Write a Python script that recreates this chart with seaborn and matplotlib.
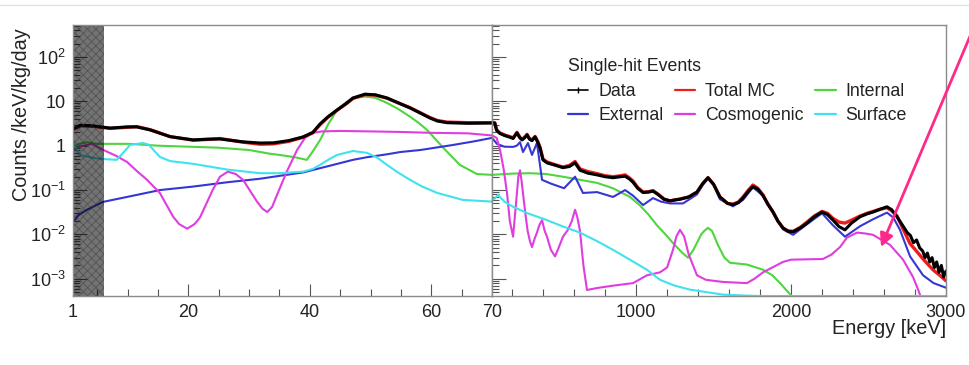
import matplotlib
matplotlib.use("Agg")
import matplotlib.pyplot as plt
from matplotlib.lines import Line2D
from matplotlib.patches import FancyArrowPatch
from matplotlib.ticker import FixedLocator, LogLocator, NullFormatter
import seaborn as sns

# ---------------- low-energy region (1-70 keV) ----------------
low_data_e = [1, 2.2, 4.3, 7.1, 9.9, 11.5, 13.7, 17, 20.8, 23, 25.2, 29, 31.8, 34, 36.5,
              38.9, 40.5, 41.7, 43, 44.5, 46, 47.1, 49.1, 50.8, 52.7, 54.5, 56.5, 58,
              59.8, 61, 62.6, 66, 70]
low_data_v = [2.4, 2.9, 2.8, 2.5, 2.65, 2.65, 2.27, 1.6, 1.35, 1.4, 1.42, 1.22, 1.15, 1.16, 1.3,
              1.58, 2.0, 3.1, 4.5, 6.4, 9.0, 11.9, 14.5, 14.0, 11.9, 9.3, 7.1, 5.6,
              4.2, 3.6, 3.3, 3.2, 3.25]

low_mc_e = [1, 2.2, 4.3, 7.1, 9.9, 11.5, 13.7, 17, 20.8, 23, 25.2, 29, 31.8, 34, 36.5,
            38.9, 40.5, 41.7, 43, 44.5, 46, 47.1, 49.1, 50.8, 52.7, 54.5, 56.5, 58,
            59.8, 61, 62.6, 66, 70]
low_mc_v = [2.3, 2.8, 2.75, 2.45, 2.6, 2.7, 2.3, 1.6, 1.33, 1.38, 1.45, 1.2, 1.08, 1.1, 1.25,
            1.55, 1.95, 3.0, 4.4, 6.3, 8.8, 11.6, 14.2, 13.8, 11.8, 9.3, 7.2, 5.7,
            4.3, 3.7, 3.4, 3.3, 3.3]

low_int_e = [1, 2, 3.3, 5, 10.4, 15, 20, 25, 30, 33.4, 35, 37.5, 39.5, 40.5, 41.7, 43, 44.5,
             46, 47.1, 49.1, 50.8, 52.7, 54.5, 56.5, 58, 59.3, 62, 64.7, 67.5, 70]
low_int_v = [0.95, 1.1, 1.2, 1.1, 1.1, 1.0, 0.95, 0.9, 0.8, 0.66, 0.62, 0.55, 0.48, 0.75, 1.35,
             3.0, 6.4, 9.5, 11.7, 12.8, 12.0, 9.2, 6.8, 4.5, 3.2, 2.27, 0.89, 0.37, 0.23, 0.22]

low_ext_e = [1, 2, 3.3, 5.9, 9.9, 15.3, 20.8, 26.4, 31.8, 35.1, 38.9, 42.8, 47.1, 49.4,
             52.7, 54.9, 58.2, 63.6, 67, 70]
low_ext_v = [0.019, 0.028, 0.036, 0.054, 0.07, 0.10, 0.12, 0.15, 0.18, 0.21, 0.25, 0.34,
             0.48, 0.55, 0.64, 0.72, 0.8, 1.04, 1.25, 1.5]

low_cos_e = [1, 2, 4.1, 6, 8, 9.9, 11.5, 13.2, 15.3, 17.5, 18.5, 19.8, 21, 21.9, 24, 25.2,
             26.5, 27.8, 29, 31.3, 32.2, 33, 33.8, 34.6, 36.2, 37.9, 39.2, 40.4, 42, 45,
             50, 55, 60, 66, 69, 70]
low_cos_v = [0.75, 0.95, 1.1, 0.8, 0.6, 0.43, 0.27, 0.17, 0.086, 0.025, 0.017, 0.0135, 0.017,
             0.024, 0.1, 0.2, 0.26, 0.23, 0.17, 0.055, 0.038, 0.032, 0.042, 0.078, 0.26, 0.8,
             1.5, 1.94, 2.1, 2.15, 2.1, 2.04, 1.95, 1.9, 1.75, 1.7]

low_surf_e = [1, 1.5, 2.2, 4.3, 6, 8.2, 9.3, 10.4, 12.5, 13.5, 14.2, 15.3, 17, 20.8, 26.4,
              31.8, 35, 38.9, 40.5, 41.7, 43, 44.5, 47.1, 49.4, 51, 52.7, 54.5, 56.5,
              58.5, 61, 65.2, 70]
low_surf_v = [1.3, 0.9, 0.62, 0.53, 0.5, 0.48, 0.7, 1.04, 1.15, 1.05, 0.82, 0.56, 0.45, 0.39,
              0.29, 0.24, 0.24, 0.26, 0.3, 0.37, 0.48, 0.62, 0.76, 0.69, 0.55, 0.37, 0.25,
              0.17, 0.12, 0.086, 0.06, 0.055]

# ---------------- high-energy region (70-3000 keV) ----------------
high_data_e = [70, 88, 100, 120, 150, 186, 206, 231, 250, 264, 280, 296, 312, 328, 348, 365,
               380, 399, 425, 470, 528, 570, 606, 638, 690, 748, 800, 851, 900, 929, 955,
               980, 1010, 1045, 1080, 1109, 1140, 1180, 1219, 1250, 1283, 1340, 1393, 1430,
               1464, 1500, 1541, 1590, 1625, 1660, 1690, 1725, 1754, 1785, 1819, 1850,
               1884, 1915, 1948, 1980, 2013, 2060, 2103, 2150, 2200, 2235, 2271, 2310,
               2348, 2390, 2445, 2490, 2529, 2575, 2619, 2650, 2684, 2720, 2750, 2770,
               2790, 2810, 2830, 2850, 2865, 2880, 2895, 2910, 2925, 2940, 2955, 2970,
               2985, 3000]
high_data_v = [3.3, 3.2, 2.2, 1.9, 1.7, 1.55, 1.45, 1.94, 1.5, 1.35, 1.5, 1.75, 1.4, 1.3,
               1.58, 1.2, 0.89, 0.48, 0.41, 0.37, 0.32, 0.34, 0.41, 0.28, 0.24, 0.22, 0.2,
               0.19, 0.2, 0.205, 0.18, 0.15, 0.11, 0.088, 0.09, 0.095, 0.08, 0.062, 0.057,
               0.06, 0.062, 0.07, 0.09, 0.14, 0.19, 0.135, 0.07, 0.05, 0.047, 0.052, 0.066,
               0.095, 0.12, 0.105, 0.075, 0.048, 0.032, 0.02, 0.014, 0.0118, 0.0114, 0.014,
               0.018, 0.025, 0.032, 0.028, 0.021, 0.015, 0.0127, 0.018, 0.025, 0.029, 0.032,
               0.037, 0.042, 0.036, 0.025, 0.016, 0.011, 0.0095, 0.0065, 0.0075, 0.005,
               0.0042, 0.003, 0.0038, 0.0024, 0.003, 0.0018, 0.0024, 0.0014, 0.002, 0.0011,
               0.0015]

high_mc_e = [70, 88, 100, 120, 150, 186, 206, 231, 250, 264, 280, 296, 312, 328, 348, 365,
             380, 399, 425, 470, 528, 570, 606, 638, 690, 748, 800, 851, 900, 929, 955,
             980, 1010, 1045, 1080, 1109, 1140, 1180, 1219, 1250, 1283, 1340, 1393, 1430,
             1464, 1500, 1541, 1590, 1625, 1660, 1690, 1725, 1754, 1785, 1819, 1850,
             1884, 1915, 1948, 1980, 2013, 2060, 2103, 2150, 2200, 2235, 2271, 2310,
             2348, 2390, 2445, 2490, 2529, 2575, 2619, 2650, 2684, 2720, 2768, 2810,
             2852, 2916, 2960, 3000]
high_mc_v = [3.4, 3.3, 2.3, 1.95, 1.75, 1.6, 1.5, 2.0, 1.55, 1.4, 1.55, 1.8, 1.45, 1.35,
             1.62, 1.25, 0.92, 0.5, 0.43, 0.38, 0.33, 0.36, 0.44, 0.3, 0.26, 0.235, 0.21,
             0.2, 0.21, 0.22, 0.19, 0.16, 0.115, 0.09, 0.092, 0.097, 0.082, 0.063, 0.057,
             0.06, 0.063, 0.07, 0.09, 0.14, 0.19, 0.135, 0.07, 0.05, 0.048, 0.054, 0.07,
             0.1, 0.13, 0.11, 0.078, 0.049, 0.032, 0.02, 0.014, 0.012, 0.0118, 0.0145,
             0.019, 0.026, 0.033, 0.03, 0.023, 0.019, 0.018, 0.021, 0.026, 0.03, 0.033,
             0.037, 0.04, 0.034, 0.026, 0.014, 0.0062, 0.0042, 0.0028, 0.0016, 0.0012,
             0.0009]

high_int_e = [70, 200, 315, 420, 528, 640, 748, 850, 961, 1025, 1080, 1135, 1190, 1238,
              1300, 1335, 1370, 1420, 1440, 1464, 1490, 1528, 1570, 1606, 1715, 1819,
              1880, 1929, 2006, 2050]
high_int_v = [0.22, 0.235, 0.24, 0.23, 0.2, 0.17, 0.145, 0.11, 0.07, 0.045, 0.028, 0.016,
              0.01, 0.0064, 0.0038, 0.003, 0.0045, 0.01, 0.012, 0.0141, 0.012, 0.0058,
              0.003, 0.0023, 0.0021, 0.0016, 0.0012, 0.0008, 0.0004, 0.0002]

high_ext_e = [70, 102, 150, 206, 230, 251, 270, 302, 328, 360, 393, 450, 535, 606, 657,
              748, 851, 929, 980, 1045, 1109, 1160, 1219, 1303, 1393, 1430, 1464, 1500,
              1541, 1625, 1690, 1754, 1819, 1884, 1948, 2013, 2103, 2200, 2271, 2348,
              2445, 2529, 2619, 2660, 2703, 2768, 2852, 2920, 3000]
high_ext_v = [1.5, 1.1, 0.95, 0.94, 1.0, 1.2, 0.72, 1.15, 0.62, 1.15, 0.17, 0.14, 0.11,
              0.2, 0.086, 0.09, 0.07, 0.1, 0.075, 0.046, 0.066, 0.055, 0.05, 0.05, 0.08,
              0.13, 0.18, 0.13, 0.062, 0.043, 0.06, 0.115, 0.075, 0.03, 0.013, 0.0098,
              0.017, 0.03, 0.016, 0.0089, 0.0153, 0.022, 0.031, 0.024, 0.0127, 0.0032,
              0.0012, 0.0008, 0.00063]

high_cos_e = [70, 100, 122, 145, 167, 185, 206, 225, 240, 251, 262, 270, 285, 300, 315,
              328, 345, 360, 375, 393, 410, 425, 450, 477, 500, 528, 560, 585, 606, 620,
              638, 660, 683, 748, 850, 980, 1070, 1154, 1200, 1238, 1260, 1283, 1310,
              1340, 1393, 1450, 1561, 1715, 1763, 1819, 1948, 2000, 2206, 2260, 2316,
              2361, 2426, 2480, 2529, 2639, 2723, 2787, 2820, 2850]
high_cos_v = [1.7, 1.5, 0.8, 0.3, 0.085, 0.02, 0.0089, 0.05, 0.2, 0.28, 0.15, 0.085, 0.03,
              0.012, 0.007, 0.0052, 0.008, 0.011, 0.016, 0.021, 0.012, 0.0089, 0.0045,
              0.0032, 0.005, 0.0089, 0.0127, 0.02, 0.036, 0.025, 0.012, 0.002, 0.00056,
              0.00062, 0.0007, 0.0008, 0.0012, 0.0014, 0.0018, 0.0045, 0.009, 0.0127,
              0.009, 0.0035, 0.0012, 0.00095, 0.00085, 0.0008, 0.001, 0.0014, 0.0024,
              0.0027, 0.0028, 0.0035, 0.0052, 0.0085, 0.011, 0.0105, 0.0098, 0.0058,
              0.0027, 0.0011, 0.00057, 0.0003]

high_surf_e = [70, 90, 109, 150, 206, 300, 425, 530, 638, 750, 851, 960, 1070, 1154, 1250,
               1348, 1561, 1700, 1800, 2400, 3000]
high_surf_v = [0.06, 0.065, 0.078, 0.055, 0.042, 0.03, 0.021, 0.015, 0.011, 0.007, 0.0045,
               0.0027, 0.0016, 0.00095, 0.0007, 0.00057, 0.00044, 0.00042, 0.00041,
               0.00041, 0.00041]

series_labels = ["Data", "Total MC", "Internal", "External", "Cosmogenic", "Surface"]
series_colors = ["#000000", "#ee1c1c", "#4ed63e", "#3636d6", "#e03ce0", "#3fe2ee"]
threshold_kev = [1, 6.1]

# ---------------- style ----------------
sns.set_style("white")
plt.rcParams["font.family"] = ["Liberation Sans", "DejaVu Sans"]
plt.rcParams["mathtext.fontset"] = "custom"
plt.rcParams["mathtext.rm"] = "Liberation Sans"
plt.rcParams["mathtext.it"] = "Liberation Sans:italic"
plt.rcParams["hatch.color"] = (0.25, 0.25, 0.25, 0.5)
plt.rcParams["hatch.linewidth"] = 0.6

W, H = 969, 365
fig = plt.figure(figsize=(W / 100, H / 100), dpi=100)
fig.patch.set_facecolor("white")

y0 = 1 - 296 / H
hgt = 271 / H
axL = fig.add_axes([73 / W, y0, 419 / W, hgt])
axR = fig.add_axes([492 / W, y0, 454 / W, hgt], sharey=axL)

color_of = dict(zip(series_labels, series_colors))


def draw(ax, e, v, label, lw, z):
    sns.lineplot(x=e, y=v, ax=ax, color=color_of[label], lw=lw, sort=False,
                 estimator=None, legend=False, zorder=z)


for ax, sets in [
    (axL, [(low_int_e, low_int_v, "Internal"), (low_ext_e, low_ext_v, "External"),
           (low_cos_e, low_cos_v, "Cosmogenic"), (low_surf_e, low_surf_v, "Surface"),
           (low_mc_e, low_mc_v, "Total MC"), (low_data_e, low_data_v, "Data")]),
    (axR, [(high_int_e, high_int_v, "Internal"), (high_ext_e, high_ext_v, "External"),
           (high_cos_e, high_cos_v, "Cosmogenic"), (high_surf_e, high_surf_v, "Surface"),
           (high_mc_e, high_mc_v, "Total MC"), (high_data_e, high_data_v, "Data")]),
]:
    for i, (e, v, lab) in enumerate(sets):
        if lab == "Data":
            lw = 2.2
        elif lab == "Total MC":
            lw = 2.4
        else:
            lw = 1.5
        draw(ax, e, v, lab, lw, 3 + i)

# analysis threshold band
axL.axvspan(threshold_kev[0], threshold_kev[1], facecolor=(0, 0, 0, 0.55),
            edgecolor=(0.2, 0.2, 0.2, 0.5), hatch="xxxx", lw=0, zorder=20)

axL.set_yscale("log")
axL.set_ylim(4.1e-4, 525)
axL.set_xlim(1, 70)
axR.set_xlim(70, 3000)

frame_col = "#8a8a8a"
for ax in (axL, axR):
    for sp in ax.spines.values():
        sp.set_color(frame_col)
        sp.set_linewidth(1.0)
        sp.set_zorder(30)
    ax.set_xlabel("")
    ax.set_ylabel("")
    ax.xaxis.set_ticks_position("bottom")
    ax.yaxis.set_ticks_position("left")
    ax.tick_params(axis="both", which="both", direction="in", color="#555555",
                   labelsize=13, labelcolor="#222222")
    ax.tick_params(axis="x", which="major", length=9, width=0.8, pad=6)
    ax.tick_params(axis="x", which="minor", length=5, width=0.8)
    ax.tick_params(axis="y", which="major", length=10, width=0.8, pad=5)
    ax.tick_params(axis="y", which="minor", length=5, width=0.8)

# y axis: decades with superscripts
decades = [1e-3, 1e-2, 1e-1, 1, 10, 100]
decade_labels = [r"$10^{-3}$", r"$10^{-2}$", r"$10^{-1}$", "1", "10", r"$10^{2}$"]
axL.yaxis.set_major_locator(FixedLocator(decades))
axL.set_yticklabels(decade_labels)
axL.yaxis.set_minor_locator(LogLocator(base=10, subs=range(2, 10), numticks=20))
axL.yaxis.set_minor_formatter(NullFormatter())
axR.tick_params(axis="y", labelleft=False)

# x axes
axL.xaxis.set_major_locator(FixedLocator([1, 20, 40, 60, 70]))
axL.set_xticklabels(["1", "20", "40", "60", "70"])
axL.xaxis.set_minor_locator(FixedLocator([5, 10, 15, 25, 30, 35, 45, 50, 55, 65]))
axR.xaxis.set_major_locator(FixedLocator([1000, 2000, 3000]))
axR.set_xticklabels(["1000", "2000", "3000"])
axR.xaxis.set_minor_locator(FixedLocator([200, 400, 600, 800, 1200, 1400, 1600, 1800,
                                          2200, 2400, 2600, 2800]))

# axis titles
fig.text(22 / W, 1 - 115 / H, "Counts /keV/kg/day", rotation=90, ha="center",
         va="center", fontsize=14.3, color="#222222")
fig.text(946 / W, 1 - 329 / H, "Energy [keV]", ha="right", va="center",
         fontsize=14.3, color="#222222")

# legend
handles = []
for lab in ["Data", "External", "Total MC", "Cosmogenic", "Internal", "Surface"]:
    if lab == "Data":
        h = Line2D([], [], color=color_of[lab], lw=1.2, marker="|", markersize=5,
                   markeredgewidth=1.0, label=lab)
    else:
        h = Line2D([], [], color=color_of[lab], lw=1.6, label=lab)
    handles.append(h)
leg = fig.legend(handles=handles, ncol=3, title="Single-hit Events",
                 loc="upper left", bbox_to_anchor=(568 / W, 1 - 58 / H),
                 frameon=False, fontsize=12.8, title_fontsize=12.8,
                 handlelength=1.15, handletextpad=0.55, columnspacing=0.65,
                 labelspacing=0.36, borderpad=0, borderaxespad=0, alignment="left")
leg._legend_box.sep = 6
for t in leg.get_texts():
    t.set_color("#222222")
leg.get_title().set_color("#222222")

# page divider line and pointer arrow
fig.add_artist(Line2D([0, 1], [1 - 5 / H, 1 - 5 / H], transform=fig.transFigure,
                      color="#e2e2e2", lw=1.0))
fig.add_artist(FancyArrowPatch((976 / W, 1 - 22 / H), (881 / W, 1 - 247 / H),
                               transform=fig.transFigure, arrowstyle="-|>",
                               mutation_scale=20, lw=2.0, color="#ff2a88",
                               shrinkA=0, shrinkB=0))

fig.savefig("out.png", dpi=100, facecolor="white")
